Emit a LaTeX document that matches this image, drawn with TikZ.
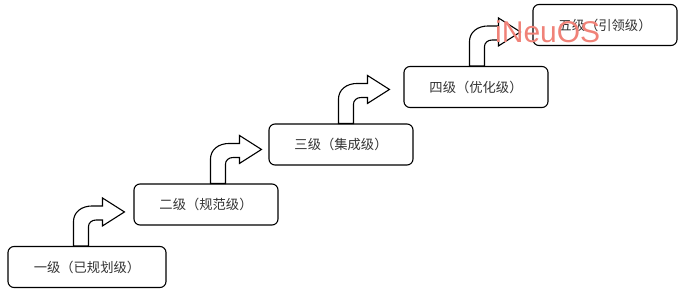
\documentclass[tikz,border=0pt]{standalone}
\usepackage{fontspec}
\setmainfont{Noto Sans CJK SC}
\newfontfamily\wmfont{Liberation Sans}
\usetikzlibrary{positioning}
\definecolor{wmred}{RGB}{240,130,120}

\begin{document}
\begin{tikzpicture}[
            x=1pt, y=1pt,
            stepbox/.style = {draw, rounded corners=6pt, line width=1.1pt,
                minimum width=144pt, minimum height=41pt, inner sep=0pt,
                font=\fontsize{13.3}{15}\selectfont, text=black!80},
            uparrow/.style = {draw, fill=white, line width=1.1pt, line join=miter}]
            \useasboundingbox (0,0) rectangle (681,-289);
            % the five levels
            \node[stepbox, minimum width=158pt] (L1) at (87,-267) {一级（已规划级）};
            \node[stepbox] (L2) at (206,-204.5) {二级（规范级）};
            \node[stepbox] (L3) at (341,-144.5) {三级（集成级）};
            \node[stepbox] (L4) at (476,-87) {四级（优化级）};
            \node[stepbox] (L5) at (605,-25) {五级（引领级）};
            % bent arrows from one level up to the next
            \def\bentarrow#1{
                \draw[uparrow] #1 -- ++(0,24)
                    .. controls ++(0,10) and ++(-11,0) .. ++(19,16)
                    -- ++(10,0) -- ++(0,8) -- ++(22,-14) -- ++(-22,-14)
                    -- ++(0,6) -- ++(-6,0)
                    .. controls ++(-5,0) and ++(0,4) .. ++(-8,-7)
                    -- ++(0,-19) -- cycle;}
            \bentarrow{([xshift=66pt]L1.north west)}
            \bentarrow{([xshift=77pt]L2.north west)}
            \bentarrow{([xshift=70pt]L3.north west)}
            \bentarrow{([xshift=66pt]L4.north west)}
            % watermark
            \node[anchor=base west, inner sep=0pt, text=wmred,
                font=\wmfont\fontsize{30}{30}\selectfont] (wm) at (495,-42) {iNeuOS};
\end{tikzpicture}
\end{document}
